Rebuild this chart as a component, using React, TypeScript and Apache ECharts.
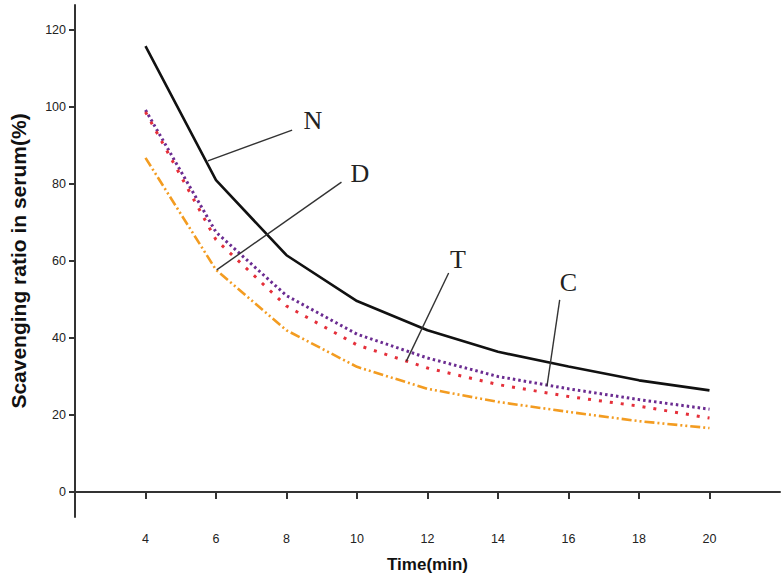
import React, { useEffect, useRef } from "react";
import * as echarts from "echarts";

const times = [4, 6, 8, 10, 12, 14, 16, 18, 20];
const seriesN = [115.8, 81, 61.5, 49.6, 42, 36.4, 32.6, 29, 26.4];
const seriesC = [99.2, 67.5, 51, 41, 34.8, 30, 26.8, 24, 21.5];
const seriesT = [98.7, 65.5, 48.3, 38.2, 32.2, 27.9, 24.8, 22.3, 19.2];
const seriesD = [86.8, 57.7, 42, 32.5, 26.8, 23.4, 20.8, 18.4, 16.6];
const xTicks = [4, 6, 8, 10, 12, 14, 16, 18, 20];
const yTicks = [0, 20, 40, 60, 80, 100, 120];

// annotation leader lines [start, end] and label anchors, in data coords
const leaderN = [[5.77, 86], [8.16, 94]];
const leaderD = [[6.02, 57.7], [9.56, 80.5]];
const leaderT = [[11.4, 34], [12.6, 56.9]];
const leaderC = [[15.39, 27.5], [15.75, 49.9]];
const labelN = [8.75, 96.6];
const labelD = [10.08, 82.6];
const labelT = [12.86, 60.3];
const labelC = [16.0, 54.3];

const pair = (arr: number[]) => times.map((t, i) => [t, arr[i]]);

const leader = (pts: number[][]) => ({
  silent: true,
  symbol: ["none", "none"],
  lineStyle: { color: "#333", width: 1.4, type: "solid" },
  label: { show: false },
  emphasis: { disabled: true },
  data: [[{ coord: pts[0] }, { coord: pts[1] }]],
});

const tag = (pos: number[], name: string) => ({
  silent: true,
  symbol: "circle",
  symbolSize: 0,
  itemStyle: { color: "transparent" },
  label: {
    show: true,
    position: "inside",
    formatter: name,
    fontFamily: "Liberation Serif, Times New Roman, serif",
    fontSize: 26,
    color: "#222",
  },
  data: [{ coord: pos }],
});

export default function App() {
  const ref = useRef<HTMLDivElement>(null);
  useEffect(() => {
    document.body.style.margin = "0";
    const chart = echarts.init(ref.current!, null, { renderer: "svg" });
    const axisFont = { fontFamily: "Liberation Sans, Arial, sans-serif", fontSize: 12.5, color: "#222" };
    const nameFont = { fontFamily: "Liberation Sans, Arial, sans-serif", fontWeight: "bold", color: "#111" };
    chart.setOption({
      animation: false,
      backgroundColor: "#fff",
      grid: { left: 63, right: 3, top: 5, bottom: 63 },
      xAxis: {
        type: "value",
        min: 2,
        max: 22,
        name: "Time(min)",
        nameLocation: "middle",
        nameGap: 39,
        nameTextStyle: { ...nameFont, fontSize: 17 },
        axisLine: { show: true, lineStyle: { color: "#333", width: 2 } },
        axisTick: { show: true, length: 7, lineStyle: { color: "#333", width: 2 }, customValues: xTicks },
        axisLabel: { ...axisFont, margin: 15, customValues: xTicks },
        splitLine: { show: false },
      },
      yAxis: {
        type: "value",
        min: -6.5,
        max: 126.5,
        name: "Scavenging ratio in serum(%)",
        nameLocation: "middle",
        nameGap: 46,
        nameRotate: 90,
        nameTextStyle: { ...nameFont, fontSize: 21 },
        axisLine: { show: true, lineStyle: { color: "#333", width: 2 } },
        axisTick: { show: true, length: 6, lineStyle: { color: "#333", width: 2 }, customValues: yTicks },
        axisLabel: { ...axisFont, margin: 9, customValues: yTicks },
        splitLine: { show: false },
      },
      series: [
        {
          name: "N",
          type: "line",
          data: pair(seriesN),
          symbol: "none",
          lineStyle: { color: "#111", width: 2.6, type: "solid" },
          markLine: leader(leaderN),
          markPoint: tag(labelN, "N"),
        },
        {
          name: "C",
          type: "line",
          data: pair(seriesC),
          symbol: "none",
          lineStyle: { color: "#6B2C91", width: 3, type: [2.5, 3] },
          markLine: leader(leaderC),
          markPoint: tag(labelC, "C"),
        },
        {
          name: "T",
          type: "line",
          data: pair(seriesT),
          symbol: "none",
          lineStyle: { color: "#E5303A", width: 3, type: [3, 8] },
          markLine: leader(leaderT),
          markPoint: tag(labelT, "T"),
        },
        {
          name: "D",
          type: "line",
          data: pair(seriesD),
          symbol: "none",
          lineStyle: { color: "#F39C21", width: 2.6, type: [10, 3, 2, 3, 2, 3] },
          markLine: leader(leaderD),
          markPoint: tag(labelD, "D"),
        },
      ],
    });
    return () => chart.dispose();
  }, []);
  return (
    <div
      ref={ref}
      style={{ position: "fixed", left: 0, top: 0, width: 783, height: 580, background: "#fff" }}
    />
  );
}
